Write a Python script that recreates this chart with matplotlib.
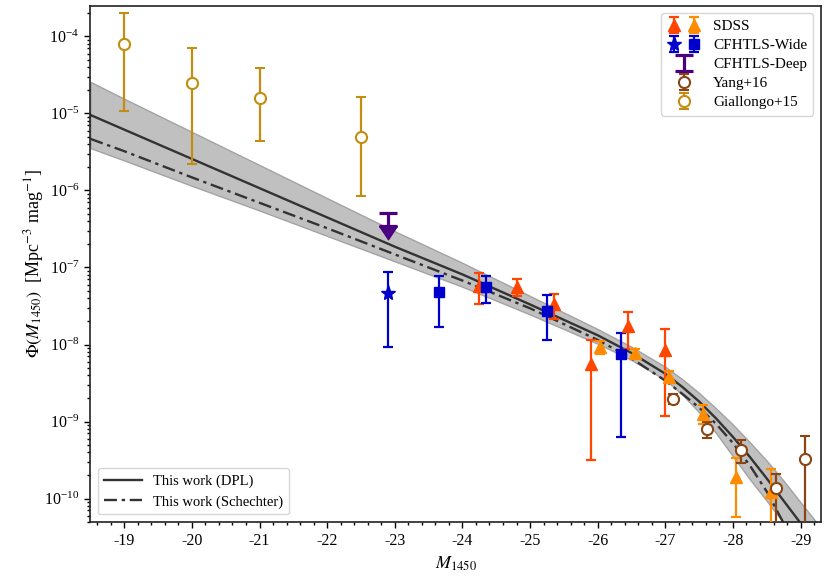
import matplotlib
matplotlib.use("Agg")
import matplotlib.pyplot as plt
import numpy as np
from matplotlib.ticker import MultipleLocator
from matplotlib.legend_handler import HandlerTuple
from matplotlib.lines import Line2D
from matplotlib.path import Path

plt.rcParams['font.family'] = ['Liberation Serif', 'DejaVu Serif']
plt.rcParams['mathtext.fontset'] = 'stix'
plt.rcParams['axes.unicode_minus'] = False

# ---------------- data ----------------
# model curves (log10 Phi) sampled along M1450
M_model = [-18.5, -19, -20, -21, -22, -23, -24, -25, -26, -26.5, -27, -27.25,
           -27.5, -27.75, -28, -28.25, -28.5, -28.75, -29, -29.3]
logphi_dpl = [-5.02, -5.21, -5.59, -5.97, -6.35, -6.73, -7.09, -7.48, -7.88, -8.11,
              -8.38, -8.55, -8.74, -8.96, -9.20, -9.46, -9.74, -10.03, -10.32, -10.68]
band_top = [-4.59, -4.81, -5.24, -5.67, -6.10, -6.53, -6.94, -7.37, -7.80, -8.03,
            -8.29, -8.45, -8.63, -8.83, -9.04, -9.27, -9.51, -9.77, -10.05, -10.38]
band_bot = [-5.45, -5.61, -5.94, -6.26, -6.59, -6.92, -7.25, -7.61, -7.99, -8.20,
            -8.46, -8.65, -8.88, -9.15, -9.45, -9.75, -10.03, -10.32, -10.62, -10.98]
M_sch = [-18.5, -19, -20, -21, -22, -23, -24, -25, -26, -26.5, -27, -27.25,
         -27.5, -27.75, -28, -28.25, -28.5, -28.75, -29]
logphi_sch = [-5.33, -5.49, -5.83, -6.16, -6.49, -6.83, -7.17, -7.53, -7.94, -8.18,
              -8.47, -8.64, -8.82, -9.03, -9.28, -9.57, -9.91, -10.32, -10.81]

# SDSS (two samples)
sdss1_M = [-24.24, -24.8, -25.36, -25.9, -26.45, -27.0]
sdss1_phi = [5.8e-8, 5.57e-8, 3.33e-8, 5.5e-9, 1.74e-8, 8.4e-9]
sdss1_hi = [8.5e-8, 7.16e-8, 4.58e-8, 1.13e-8, 2.64e-8, 1.6e-8]
sdss1_lo = [3.35e-8, 4.25e-8, 2.12e-8, 3.14e-10, 8.8e-9, 1.18e-9]

sdss2_M = [-26.04, -26.55, -27.06, -27.55, -28.05, -28.56]
sdss2_phi = [9.2e-9, 7.8e-9, 3.8e-9, 1.27e-9, 1.9e-10, 1.22e-10]
sdss2_hi = [1.1e-8, 8.7e-9, 4.5e-9, 1.62e-9, 3.4e-10, 2.45e-10]
sdss2_lo = [7.6e-9, 7.0e-9, 3.2e-9, 9.3e-10, 5.8e-11, 2e-11]

# CFHTLS-Wide
wstar_M = [-22.9]
wstar_phi = [4.7e-8]
wstar_hi = [8.65e-8]
wstar_lo = [9.3e-9]

wsq_M = [-23.65, -24.35, -25.25, -26.35]
wsq_phi = [4.75e-8, 5.57e-8, 2.72e-8, 7.53e-9]
wsq_hi = [7.67e-8, 7.67e-8, 4.35e-8, 1.43e-8]
wsq_lo = [1.69e-8, 3.46e-8, 1.14e-8, 6.3e-10]

# CFHTLS-Deep (upper limit)
deep_M = [-22.9]
deep_lim = [5.1e-7]
deep_arrow = [3.45e-7]

# Yang+16
yang_M = [-27.12, -27.62, -28.12, -28.63, -29.06]
yang_phi = [1.98e-9, 8.1e-10, 4.3e-10, 1.39e-10, 3.24e-10]
yang_hi = [2.3e-9, 9.9e-10, 5.7e-10, 2.1e-10, 6.5e-10]
yang_lo = [1.68e-9, 6.2e-10, 2.9e-10, 3e-11, 2e-11]

# Giallongo+15
gia_M = [-19.0, -20.0, -21.0, -22.5]
gia_phi = [7.9e-5, 2.5e-5, 1.57e-5, 5.0e-6]
gia_hi = [2.0e-4, 7.1e-5, 3.9e-5, 1.63e-5]
gia_lo = [1.08e-5, 2.18e-6, 4.34e-6, 8.6e-7]

# ---------------- plotting ----------------
def yerr(phi, lo, hi):
    phi = np.asarray(phi); lo = np.asarray(lo); hi = np.asarray(hi)
    return [phi - lo, hi - phi]

fig = plt.figure(figsize=(8.3, 5.8), dpi=100)
ax = fig.add_axes([0.109, 0.1005, 0.880, 0.8895])
ax.set_yscale('log')

DASH = (5.5, 2.0, 1.4, 2.0)

ax.fill_between(M_model, 10 ** np.array(band_bot), 10 ** np.array(band_top),
                facecolor='#c0c0c0', edgecolor='#a3a3a3', lw=1.0, zorder=1)
ax.plot(M_model, 10 ** np.array(logphi_dpl), color='#333333', lw=1.7, zorder=2)
ax.plot(M_sch, 10 ** np.array(logphi_sch), color='#333333', lw=1.7,
        dashes=DASH, zorder=2)

ebkw = dict(elinewidth=1.6, capsize=3.5, capthick=1.6, linestyle='none', zorder=4)

c_or = '#ff4500'
c_dor = '#ff8c00'
c_blue = '#0000cd'
c_ind = '#4b0082'
c_brown = '#8b4513'
c_gold = '#c38d12'

e_s1 = ax.errorbar(sdss1_M, sdss1_phi, yerr=yerr(sdss1_phi, sdss1_lo, sdss1_hi),
                   marker='^', ms=9, color=c_or, **ebkw)
e_s2 = ax.errorbar(sdss2_M, sdss2_phi, yerr=yerr(sdss2_phi, sdss2_lo, sdss2_hi),
                   marker='^', ms=9, color=c_dor, **ebkw)
e_ws = ax.errorbar(wstar_M, wstar_phi, yerr=yerr(wstar_phi, wstar_lo, wstar_hi),
                   marker='*', ms=11, color=c_blue, **ebkw)
e_wq = ax.errorbar(wsq_M, wsq_phi, yerr=yerr(wsq_phi, wsq_lo, wsq_hi),
                   marker='s', ms=7.5, color=c_blue, **ebkw)

dkw = dict(elinewidth=2.3, capsize=6.2, capthick=2.3, linestyle='none', zorder=4)
e_dp = ax.errorbar(deep_M, deep_lim,
                   yerr=[np.array(deep_lim) - np.array(deep_arrow), np.zeros(1)],
                   fmt='none', ecolor=c_ind, **dkw)
arrow = Path([(-1.0, 0.0), (0.0, -1.5), (1.0, 0.0), (-1.0, 0.0)],
             [Path.MOVETO, Path.LINETO, Path.LINETO, Path.CLOSEPOLY])
ax.plot(deep_M, deep_arrow, linestyle='none', marker=arrow, ms=19,
        color=c_ind, mec=c_ind, zorder=5)

e_y = ax.errorbar(yang_M, yang_phi, yerr=yerr(yang_phi, yang_lo, yang_hi),
                  marker='o', ms=8, mfc='white', mec=c_brown, mew=1.5,
                  color=c_brown, **ebkw)
e_g = ax.errorbar(gia_M, gia_phi, yerr=yerr(gia_phi, gia_lo, gia_hi),
                  marker='o', ms=8, mfc='white', mec=c_gold, mew=1.5,
                  color=c_gold, **ebkw)

ax.set_xlim(-18.5, -29.3)
ax.set_ylim(5e-11, 2.5e-4)
ax.xaxis.set_major_locator(MultipleLocator(1))
ax.xaxis.set_minor_locator(MultipleLocator(0.2))
ax.tick_params(which='both', direction='out', top=False, right=False,
               labelsize=11.5, width=1.0)
ax.tick_params(which='major', length=4.5)
ax.tick_params(which='minor', length=2.5)
for sp in ax.spines.values():
    sp.set_linewidth(1.2)
    sp.set_color('#222222')

ax.set_xlabel(r'$M_{1450}$', fontsize=13, labelpad=4)
ax.set_ylabel(r'$\Phi(M_{1450})$  [Mpc$^{-3}$ mag$^{-1}$]', fontsize=13, labelpad=-1)

leg1 = ax.legend([(e_s1, e_s2), (e_ws, e_wq), e_dp, e_y, e_g],
                 ['SDSS', 'CFHTLS-Wide', 'CFHTLS-Deep', 'Yang+16', 'Giallongo+15'],
                 handler_map={tuple: HandlerTuple(ndivide=None, pad=0.4)},
                 loc='upper right', fontsize=11, handlelength=2.2,
                 borderaxespad=0.5, labelspacing=0.35)
ax.add_artist(leg1)

h_dpl = Line2D([], [], color='#333333', lw=1.7)
h_sch = Line2D([], [], color='#333333', lw=1.7, dashes=DASH)
ax.legend([h_dpl, h_sch], ['This work (DPL)', 'This work (Schechter)'],
          loc='lower left', fontsize=10.5, handlelength=2.6, borderaxespad=0.5)

fig.savefig('out.png', dpi=100)
